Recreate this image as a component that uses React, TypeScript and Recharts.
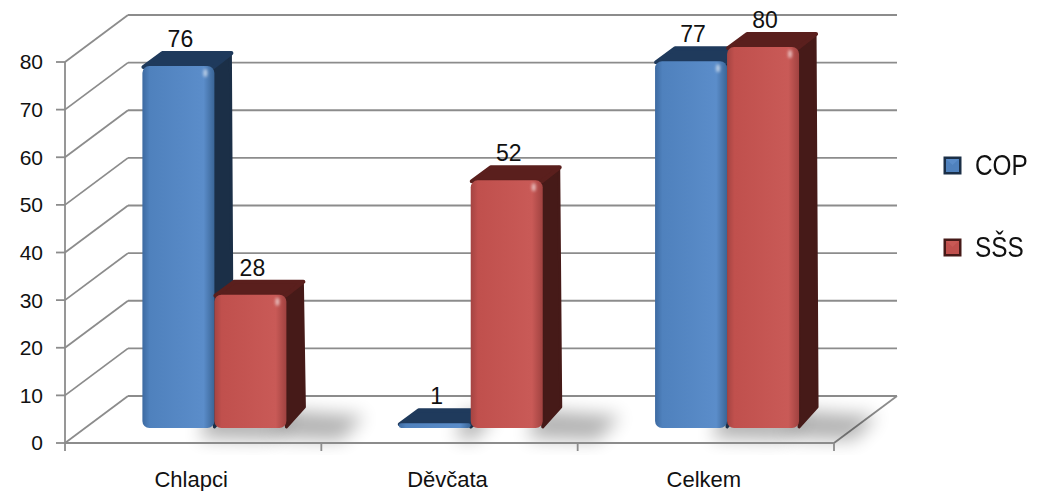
import { BarChart, Bar, XAxis, YAxis, CartesianGrid, Legend, LabelList } from 'recharts';

const CATEGORIES = ['Chlapci', 'Děvčata', 'Celkem'];
const COP = [76, 1, 77];
const SSS = [28, 52, 80];
const Y_TICKS = [0, 10, 20, 30, 40, 50, 60, 70, 80];

const data = CATEGORIES.map((name, i) => ({ name, COP: COP[i], SSS: SSS[i] }));

// 3D look: wall depth and bar placement inside it
const WALL_DX = 63;
const WALL_DY = 47;
const DX = 21; // bar front face pushed back
const DY = -15;
const DDX = 18; // bar depth
const DDY = 14;

const GRID = '#8c8c8c';
const FONT = '"Liberation Sans", Arial, sans-serif';

const PAL = {
  COP: { id: 'cop', l: '#3d6aa1', m: '#4f81bd', r: '#5b8dca', e: '#3a6596', top: '#1f3a5c', side: '#1b2f47' },
  SSS: { id: 'sss', l: '#a44442', m: '#c0504d', r: '#c95a57', e: '#a04240', top: '#5a1f1d', side: '#461a18' },
};

const Bar3D = (props: any) => {
  const { x, y, width: w, height: h, pal } = props;
  if (h == null || w == null) return null;
  const fx = x + DX;
  const fy = y + DY;
  const fb = fy + h;
  const r = Math.max(0.5, Math.min(7, h / 2, w / 4));
  const s = Math.min(1, h / 60);
  return (
    <g>
      <defs>
        <linearGradient id={`front-${pal.id}`} x1="0" y1="0" x2="1" y2="0">
          <stop offset="0%" stopColor={pal.l} />
          <stop offset="10%" stopColor={pal.m} />
          <stop offset="85%" stopColor={pal.r} />
          <stop offset="100%" stopColor={pal.e} />
        </linearGradient>
        <filter id="soft" x="-50%" y="-50%" width="200%" height="200%">
          <feGaussianBlur stdDeviation="9" />
        </filter>
        <filter id="glow" x="-100%" y="-100%" width="300%" height="300%">
          <feGaussianBlur stdDeviation="1.5" />
        </filter>
      </defs>
      <polygon
        points={`${fx + w - 5},${fb - DDY - 4} ${fx + w + DDX + 60 * s},${fb - DDY + 2} ${fx + w + 55 * s},${fb + 12} ${fx + w - 15},${fb + 10}`}
        fill="#000"
        opacity={0.3}
        filter="url(#soft)"
      />
      <polygon
        points={`${fx + w - 2},${fy + 1} ${fx + w + DDX - 2},${fy - DDY + 1} ${fx + w + DDX},${fb - DDY - r} ${fx + w},${fb - 1}`}
        fill={pal.side}
        stroke={pal.side}
        strokeWidth={3}
        strokeLinejoin="round"
      />
      <polygon
        points={`${fx + 1},${fy + 1} ${fx + DDX + 2},${fy - DDY + 1} ${fx + w + DDX - 1},${fy - DDY + 1} ${fx + w - 1},${fy + 1}`}
        fill={pal.top}
        stroke={pal.top}
        strokeWidth={4}
        strokeLinejoin="round"
      />
      <rect x={fx} y={fy} width={w} height={h} rx={r} ry={r} fill={`url(#front-${pal.id})`} />
      {h > 20 && (
        <ellipse cx={fx + w - 9} cy={fy + 7} rx={2} ry={4} fill="#fff" opacity={0.6} filter="url(#glow)" />
      )}
    </g>
  );
};

const renderValue = (p: any) => {
  const { x, y, width, value } = p;
  return (
    <text x={x + DX + width / 2 + 2} y={y + DY - DDY - 5} textAnchor="middle" fontSize={23} fontFamily={FONT} fill="#111">
      {value}
    </text>
  );
};

const wallLine = (props: any) => {
  const { x1, y1, x2, index } = props;
  const bottom = props.offset ? props.offset.top + props.offset.height : 443;
  const isFloor = Math.abs(y1 - bottom) < 1;
  return (
    <g key={`w-${index}-${y1}`}>
      <line x1={x1} y1={y1} x2={x1 + WALL_DX} y2={y1 - WALL_DY} stroke={GRID} strokeWidth={1.8} />
      <line x1={x1 + WALL_DX} y1={y1 - WALL_DY} x2={x2 + WALL_DX} y2={y1 - WALL_DY} stroke={GRID} strokeWidth={1.8} />
      {isFloor && <line x1={x2} y1={y1} x2={x2 + WALL_DX} y2={y1 - WALL_DY} stroke={GRID} strokeWidth={1.8} />}
    </g>
  );
};

const CategoryTick = (p: any) => {
  const { x, y, payload, index, visibleTicksCount } = p;
  const band = (p.width || 769) / (visibleTicksCount || 3);
  return (
    <g>
      <line x1={x - band / 2} y1={y} x2={x - band / 2} y2={y + 8} stroke={GRID} strokeWidth={1.8} />
      {index === visibleTicksCount - 1 && (
        <line x1={x + band / 2} y1={y} x2={x + band / 2} y2={y + 8} stroke={GRID} strokeWidth={1.8} />
      )}
      <text x={x - 2} y={y + 44} textAnchor="middle" fontSize={22} fontFamily={FONT} fill="#111">
        {payload.value}
      </text>
    </g>
  );
};

const Marker = ({ pal }: { pal: any }) => (
  <svg width={19} height={19} style={{ display: 'block' }}>
    <rect x={0.5} y={0.5} width={18} height={18} fill={pal.side} />
    <rect x={3} y={3} width={13} height={13} fill={pal.m} />
    <polygon points="3,3 16,3 9.5,9" fill={pal.r} opacity={0.9} />
  </svg>
);

const LegendBox = () => (
  <div style={{ position: 'relative', width: 207, height: 124, fontFamily: FONT }}>
    {[
      { label: 'COP', pal: PAL.COP, top: 0 },
      { label: 'SŠS', pal: PAL.SSS, top: 82 },
    ].map((it) => (
      <div
        key={it.label}
        style={{ position: 'absolute', left: 109, top: it.top, height: 40, display: 'flex', alignItems: 'center', gap: 13 }}
      >
        <Marker pal={it.pal} />
        <span
          style={{
            fontSize: 29,
            color: '#111',
            lineHeight: '40px',
            display: 'inline-block',
            transform: 'scaleX(0.84)',
            transformOrigin: 'left center',
          }}
        >
          {it.label}
        </span>
      </div>
    ))}
  </div>
);

export default function App() {
  return (
    <div style={{ position: 'fixed', left: 0, top: 0, width: 1041, height: 491, background: '#fff' }}>
      <BarChart
        width={1041}
        height={491}
        data={data}
        margin={{ top: 62, right: 0, bottom: 0, left: 0 }}
        barCategoryGap="22%"
        barGap={0}
      >
        <CartesianGrid horizontal={wallLine} vertical={false} />
        <XAxis
          dataKey="name"
          height={48}
          tickLine={false}
          tickSize={0}
          tickMargin={0}
          axisLine={{ stroke: GRID, strokeWidth: 1.8 }}
          tick={<CategoryTick />}
          interval={0}
        />
        <YAxis
          width={65}
          domain={[0, 80]}
          ticks={Y_TICKS}
          tickSize={9}
          tickMargin={13}
          axisLine={{ stroke: GRID, strokeWidth: 1.8 }}
          tickLine={{ stroke: GRID, strokeWidth: 1.8 }}
          tick={{ fontSize: 21, fontFamily: FONT, fill: '#111' }}
        />
        <Legend
          layout="vertical"
          align="right"
          verticalAlign="middle"
          content={<LegendBox />}
          wrapperStyle={{ top: 145, width: 207 }}
        />
        <Bar dataKey="COP" name="COP" isAnimationActive={false} shape={(p: any) => <Bar3D {...p} pal={PAL.COP} />}>
          <LabelList dataKey="COP" content={renderValue} />
        </Bar>
        <Bar dataKey="SSS" name="SŠS" isAnimationActive={false} shape={(p: any) => <Bar3D {...p} pal={PAL.SSS} />}>
          <LabelList dataKey="SSS" content={renderValue} />
        </Bar>
      </BarChart>
    </div>
  );
}
